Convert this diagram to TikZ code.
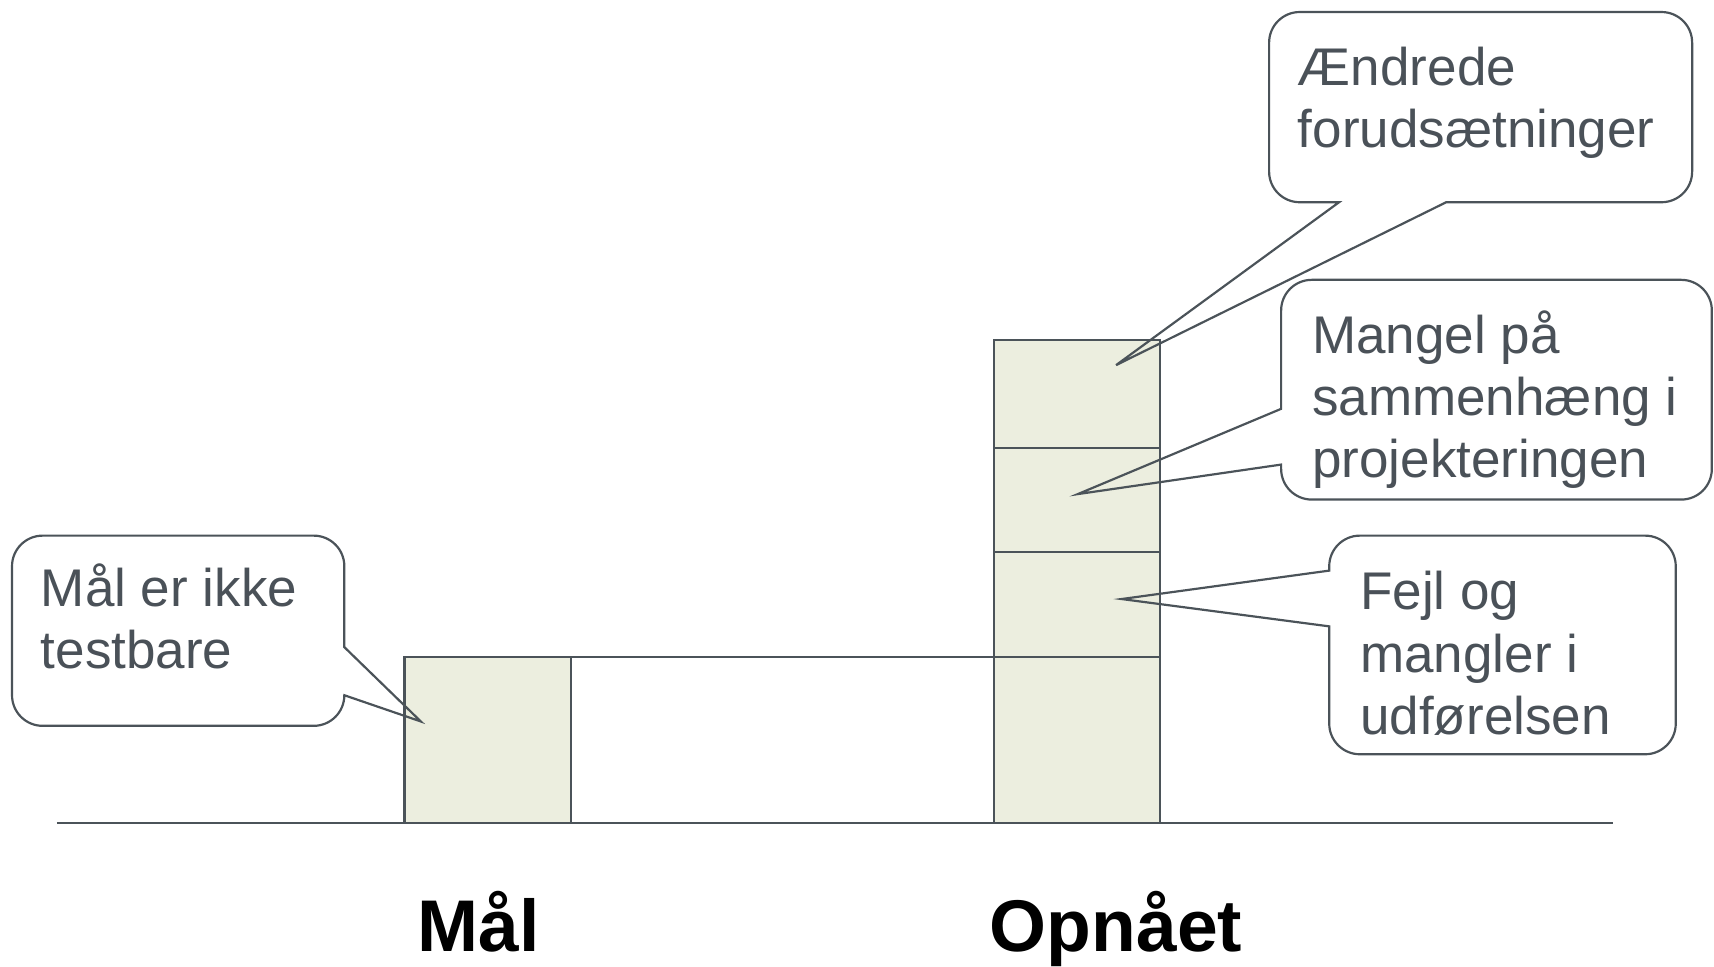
\documentclass[tikz,border=0pt]{standalone}
\usepackage{fontspec}
\setmainfont{Liberation Sans}
\definecolor{ln}{HTML}{4B5359}
\definecolor{tx}{HTML}{4A5158}
\definecolor{barfill}{HTML}{ECEEDF}
\begin{document}
\begin{tikzpicture}[x=0.5pt,y=-0.5pt,
  bar/.style={draw=ln,fill=barfill,line width=1pt},
  ln/.style={draw=ln,line width=1pt},
  callout/.style={draw=ln,line width=1pt,line join=miter},
  ctext/.style={anchor=base west,align=left,inner sep=0pt,text=tx,font=\fontsize{24.25}{28.5}\selectfont},
  axlabel/.style={anchor=base,inner sep=0pt,text=black,font=\fontsize{33.5}{40}\selectfont\bfseries}]
\useasboundingbox (0,0) rectangle (1568,884);
% axis
\draw[ln] (52,753) -- (1476,753);
% bars
\draw[bar] (370,601) rectangle (522,753);
\draw[bar] (909,311) rectangle (1061,753);
\draw[ln] (909,410) -- (1061,410);
\draw[ln] (909,505) -- (1061,505);
\draw[ln] (522,601) -- (1061,601);
% callout 1
\draw[callout] (39,490) -- (287,490) arc[start angle=-90,end angle=0,radius=28]
  -- (315,592) -- (385,660) -- (315,636) -- (315,636)
  arc[start angle=0,end angle=90,radius=28] -- (39,664)
  arc[start angle=90,end angle=180,radius=28] -- (11,518)
  arc[start angle=180,end angle=270,radius=28] -- cycle;
% callout 2
\draw[callout] (1189,11) -- (1520,11) arc[start angle=-90,end angle=0,radius=28]
  -- (1548,157) arc[start angle=0,end angle=90,radius=28]
  -- (1323,185) -- (1021,334) -- (1225,185) -- (1189,185)
  arc[start angle=90,end angle=180,radius=28] -- (1161,39)
  arc[start angle=180,end angle=270,radius=28] -- cycle;
% callout 3
\draw[callout] (1200,256) -- (1538,256) arc[start angle=-90,end angle=0,radius=28]
  -- (1566,429) arc[start angle=0,end angle=90,radius=28]
  -- (1200,457) arc[start angle=90,end angle=180,radius=28]
  -- (1172,425) -- (986,452) -- (1172,374) -- (1172,284)
  arc[start angle=180,end angle=270,radius=28] -- cycle;
% callout 4
\draw[callout] (1244,490) -- (1505,490) arc[start angle=-90,end angle=0,radius=28]
  -- (1533,662) arc[start angle=0,end angle=90,radius=28]
  -- (1244,690) arc[start angle=90,end angle=180,radius=28]
  -- (1216,573) -- (1026,548) -- (1216,522) -- (1216,518)
  arc[start angle=180,end angle=270,radius=28] -- cycle;
% texts (anchored at baseline of last line)
\node[ctext] (t1) at (37,612) {Mål er ikke\\testbare};
\node[ctext] (t2) at (1187,135) {Ændrede\\forudsætninger};
\node[ctext] (t3) at (1200,437) {Mangel på\\sammenhæng i\\projekteringen};
\node[ctext] (t4) at (1244,672) {Fejl og\\mangler i\\udførelsen};
\node[axlabel] (l1) at (438,870) {Mål};
\node[axlabel] (l2) at (1021,870) {Opnået};
\end{tikzpicture}
\end{document}
